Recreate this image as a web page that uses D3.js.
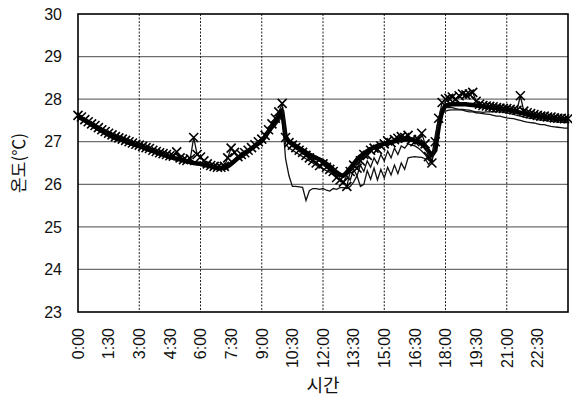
<!DOCTYPE html>
<html>
<head>
<meta charset="utf-8">
<script src="https://cdn.jsdelivr.net/npm/d3@7"></script>
<style>
  body { margin: 0; background: #fff; }
  .tick-label { font-family: "Liberation Sans", Arial, sans-serif; font-size: 16px; fill: #111; }
  .axis-title { font-family: "Noto Sans CJK KR", sans-serif; font-size: 17px; fill: #111; }
</style>
</head>
<body>
<div class="chart"></div>
<script>
// 10 minute readings, 0:00 .. 24:00 (145 points)
var yTicks = [23, 24, 25, 26, 27, 28, 29, 30];
var xTickLabels = ["0:00", "1:30", "3:00", "4:30", "6:00", "7:30", "9:00", "10:30",
  "12:00", "13:30", "15:00", "16:30", "18:00", "19:30", "21:00", "22:30"];

// thick line
var seriesMain = [
  27.60, 27.55, 27.50, 27.45, 27.40, 27.35,
  27.30, 27.26, 27.22, 27.18, 27.14, 27.10,
  27.07, 27.04, 27.01, 26.98, 26.95, 26.92,
  26.90, 26.87, 26.84, 26.81, 26.78, 26.75,
  26.72, 26.70, 26.67, 26.64, 26.62, 26.60,
  26.58, 26.56, 26.54, 26.52, 26.50, 26.49,
  26.48, 26.46, 26.44, 26.42, 26.40, 26.39,
  26.38, 26.38, 26.42, 26.48, 26.55, 26.62,
  26.66, 26.72, 26.78, 26.84, 26.90, 26.96,
  27.02, 27.12, 27.24, 27.36, 27.48, 27.60,
  27.72, 27.12, 27.00, 26.95, 26.90, 26.85,
  26.80, 26.75, 26.70, 26.66, 26.62, 26.58,
  26.54, 26.48, 26.42, 26.35, 26.28, 26.22,
  26.20, 26.28, 26.38, 26.48, 26.58, 26.66,
  26.72, 26.78, 26.83, 26.87, 26.90, 26.93,
  26.95, 26.97, 26.99, 27.01, 27.03, 27.04,
  27.05, 27.06, 27.05, 27.03, 27.00, 26.95,
  26.88, 26.78, 26.68, 26.80, 27.35, 27.72,
  27.85, 27.87, 27.88, 27.88, 27.88, 27.88,
  27.88, 27.87, 27.86, 27.85, 27.84, 27.83,
  27.82, 27.81, 27.80, 27.79, 27.78, 27.77,
  27.76, 27.74, 27.72, 27.70, 27.68, 27.66,
  27.64, 27.62, 27.61, 27.60, 27.59, 27.58,
  27.57, 27.56, 27.55, 27.54, 27.54, 27.53,
  27.53
];

// line with x markers
var seriesCross = [
  27.62, 27.58, 27.52, 27.47, 27.42, 27.38,
  27.33, 27.28, 27.24, 27.20, 27.16, 27.12,
  27.09, 27.06, 27.03, 27.00, 26.97, 26.94,
  26.92, 26.89, 26.86, 26.84, 26.80, 26.77,
  26.74, 26.72, 26.70, 26.67, 26.66, 26.76,
  26.62, 26.58, 26.56, 26.60, 27.10, 26.70,
  26.64, 26.55, 26.48, 26.44, 26.42, 26.40,
  26.40, 26.42, 26.62, 26.85, 26.75, 26.65,
  26.70, 26.74, 26.80, 26.86, 26.93, 27.00,
  27.06, 27.15, 27.28, 27.42, 27.55, 27.70,
  27.90, 27.10, 26.98, 26.92, 26.86, 26.80,
  26.75, 26.68, 26.62, 26.56, 26.50, 26.44,
  26.48, 26.40, 26.35, 26.30, 26.16, 26.10,
  26.05, 25.95, 26.30, 26.45, 26.38, 26.55,
  26.70, 26.68, 26.80, 26.85, 26.82, 26.90,
  26.95, 27.02, 26.98, 27.05, 27.08, 27.12,
  27.10, 27.15, 27.05, 27.00, 27.05, 27.20,
  26.95, 26.65, 26.50, 27.00, 27.55, 27.92,
  28.00, 28.02, 28.05, 28.00, 28.08, 28.12,
  28.10, 28.12, 28.16, 27.95, 27.88, 27.85,
  27.84, 27.83, 27.82, 27.80, 27.79, 27.78,
  27.78, 27.76, 27.75, 27.74, 28.08, 27.72,
  27.68, 27.66, 27.64, 27.62, 27.60, 27.60,
  27.58, 27.58, 27.56, 27.55, 27.55, 27.54,
  27.54
];

// thin line, lowest after 10:00
var seriesThinA = [
  27.58, 27.52, 27.47, 27.42, 27.37, 27.32,
  27.26, 27.21, 27.16, 27.12, 27.08, 27.04,
  27.02, 27.00, 26.97, 26.94, 26.92, 26.90,
  26.88, 26.85, 26.82, 26.79, 26.76, 26.73,
  26.70, 26.68, 26.65, 26.62, 26.60, 26.58,
  26.56, 26.54, 26.52, 26.50, 26.48, 26.47,
  26.45, 26.43, 26.41, 26.39, 26.37, 26.36,
  26.36, 26.37, 26.40, 26.45, 26.50, 26.57,
  26.64, 26.71, 26.78, 26.85, 26.92, 26.99,
  27.06, 27.14, 27.22, 27.30, 27.38, 27.48,
  27.60, 26.60, 26.20, 25.95, 25.95, 25.94,
  25.93, 25.62, 25.85, 25.90, 25.90, 25.88,
  25.90, 25.86, 25.84, 25.90, 25.88, 25.92,
  25.92, 25.90, 25.95, 26.05, 26.20, 25.95,
  26.00, 26.32, 26.12, 26.38, 26.10, 26.35,
  26.15, 26.40, 26.22, 26.45, 26.25, 26.50,
  26.35, 26.62, 26.64, 26.65, 26.64, 26.63,
  26.60, 26.47, 26.55, 27.00, 27.50, 27.65,
  27.72, 27.74, 27.75, 27.75, 27.75, 27.74,
  27.72, 27.70, 27.70, 27.68, 27.67, 27.66,
  27.65, 27.64, 27.62, 27.60, 27.60, 27.58,
  27.56, 27.55, 27.54, 27.52, 27.50, 27.48,
  27.46, 27.45, 27.44, 27.42, 27.40, 27.40,
  27.38, 27.36, 27.35, 27.34, 27.33, 27.32,
  27.32
];

// thin line, zigzag in the afternoon
var seriesThinB = [
  27.57, 27.51, 27.46, 27.41, 27.36, 27.31,
  27.27, 27.22, 27.18, 27.14, 27.10, 27.06,
  27.03, 27.00, 26.98, 26.95, 26.92, 26.90,
  26.87, 26.84, 26.81, 26.78, 26.75, 26.72,
  26.70, 26.67, 26.64, 26.62, 26.60, 26.58,
  26.56, 26.54, 26.52, 26.50, 26.48, 26.47,
  26.46, 26.44, 26.42, 26.40, 26.38, 26.37,
  26.37, 26.38, 26.42, 26.47, 26.53, 26.59,
  26.66, 26.73, 26.80, 26.87, 26.94, 27.01,
  27.08, 27.16, 27.24, 27.32, 27.42, 27.54,
  27.66, 26.95, 26.85, 26.80, 26.75, 26.70,
  26.65, 26.60, 26.55, 26.50, 26.45, 26.40,
  26.36, 26.32, 26.28, 26.22, 26.15, 26.10,
  26.05, 26.20, 26.10, 26.35, 26.20, 26.45,
  26.30, 26.55, 26.40, 26.62, 26.48, 26.70,
  26.55, 26.78, 26.62, 26.85, 26.70, 26.90,
  26.85, 26.95, 26.92, 26.90, 26.85, 26.78,
  26.70, 26.58, 26.68, 27.15, 27.58, 27.75,
  27.80, 27.80, 27.80, 27.78, 27.76, 27.76,
  27.75, 27.74, 27.72, 27.70, 27.70, 27.69,
  27.70, 27.70, 27.71, 27.70, 27.70, 27.69,
  27.68, 27.66, 27.64, 27.62, 27.60, 27.58,
  27.56, 27.55, 27.54, 27.52, 27.51, 27.50,
  27.49, 27.48, 27.47, 27.46, 27.46, 27.45,
  27.45
];

(function () {

  var width = 572, height = 403;
  var plotLeft = 78, plotRight = 568, plotTop = 14, plotBottom = 312;

  var svg = d3.select(".chart")
    .append("svg")
    .attr("width", width)
    .attr("height", height);

  // index scale (one step = 10 minutes)
  var x = d3.scaleLinear().domain([0, 144]).range([plotLeft, plotRight]);
  var y = d3.scaleLinear().domain([23, 30]).range([plotBottom, plotTop]);

  // horizontal grid
  svg.append("g")
    .selectAll("line")
    .data(yTicks.filter(function (d) { return d > 23 && d < 30; }))
    .enter()
    .append("line")
    .attr("x1", plotLeft).attr("x2", plotRight)
    .attr("y1", function (d) { return y(d); })
    .attr("y2", function (d) { return y(d); })
    .attr("stroke", "#6e6e6e")
    .attr("stroke-width", 1.3);

  // vertical grid every 3 hours, dotted
  var gridIdx = d3.range(18, 144, 18);
  svg.append("g")
    .selectAll("line")
    .data(gridIdx)
    .enter()
    .append("line")
    .attr("x1", function (d) { return x(d); })
    .attr("x2", function (d) { return x(d); })
    .attr("y1", plotTop).attr("y2", plotBottom)
    .attr("stroke", "#222")
    .attr("stroke-width", 1)
    .attr("stroke-dasharray", "2,1.5");

  // plot frame
  svg.append("rect")
    .attr("x", plotLeft).attr("y", plotTop)
    .attr("width", plotRight - plotLeft)
    .attr("height", plotBottom - plotTop)
    .attr("fill", "none")
    .attr("stroke", "#000")
    .attr("stroke-width", 1.6);

  var line = d3.line()
    .x(function (d, i) { return x(i); })
    .y(function (d) { return y(d); });

  // thin lines
  [seriesThinA, seriesThinB].forEach(function (s) {
    svg.append("path")
      .datum(s)
      .attr("d", line)
      .attr("fill", "none")
      .attr("stroke", "#111")
      .attr("stroke-width", 1.3);
  });

  // thick line
  svg.append("path")
    .datum(seriesMain)
    .attr("d", line)
    .attr("fill", "none")
    .attr("stroke", "#000")
    .attr("stroke-width", 4.5)
    .attr("stroke-linejoin", "round");

  // line with x markers
  svg.append("path")
    .datum(seriesCross)
    .attr("d", line)
    .attr("fill", "none")
    .attr("stroke", "#111")
    .attr("stroke-width", 1.3);

  var m = 4.5;
  svg.append("g")
    .selectAll("path")
    .data(seriesCross)
    .enter()
    .append("path")
    .attr("d", function (d, i) {
      var cx = x(i), cy = y(d);
      return "M" + (cx - m) + "," + (cy - m) + "L" + (cx + m) + "," + (cy + m) +
        "M" + (cx - m) + "," + (cy + m) + "L" + (cx + m) + "," + (cy - m);
    })
    .attr("stroke", "#000")
    .attr("stroke-width", 1.6);

  // y tick labels
  svg.append("g")
    .selectAll("text")
    .data(yTicks)
    .enter()
    .append("text")
    .attr("class", "tick-label")
    .attr("x", 62)
    .attr("y", function (d) { return y(d); })
    .attr("dy", "0.36em")
    .attr("text-anchor", "end")
    .text(function (d) { return d; });

  // x tick labels, rotated
  svg.append("g")
    .selectAll("text")
    .data(xTickLabels)
    .enter()
    .append("text")
    .attr("class", "tick-label")
    .attr("transform", function (d, i) {
      return "translate(" + x(i * 9) + ",328) rotate(-90)";
    })
    .attr("dy", "0.36em")
    .attr("text-anchor", "end")
    .text(function (d) { return d; });

  // axis titles
  svg.append("text")
    .attr("class", "axis-title")
    .attr("transform", "translate(25," + ((plotTop + plotBottom) / 2) + ") rotate(-90)")
    .attr("text-anchor", "middle")
    .text("온도(℃)");

  svg.append("text")
    .attr("class", "axis-title")
    .attr("x", (plotLeft + plotRight) / 2)
    .attr("y", 392)
    .attr("text-anchor", "middle")
    .style("font-size", "18px")
    .text("시간");

})();
</script>
</body>
</html>
